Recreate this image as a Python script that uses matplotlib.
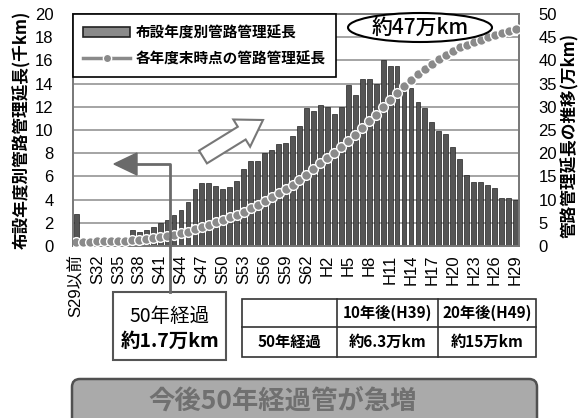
import numpy as np
import matplotlib
matplotlib.use("Agg")
import matplotlib.pyplot as plt
from matplotlib.patches import Ellipse, FancyBboxPatch, Rectangle, Polygon
from matplotlib.lines import Line2D

plt.rcParams['font.family'] = ['Noto Sans CJK JP', 'DejaVu Sans']

# fiscal years (showa / heisei)
years = ['S29以前', 'S30', 'S31', 'S32', 'S33', 'S34', 'S35', 'S36', 'S37', 'S38',
         'S39', 'S40', 'S41', 'S42', 'S43', 'S44', 'S45', 'S46', 'S47', 'S48',
         'S49', 'S50', 'S51', 'S52', 'S53', 'S54', 'S55', 'S56', 'S57', 'S58',
         'S59', 'S60', 'S61', 'S62', 'S63', 'H1', 'H2', 'H3', 'H4', 'H5',
         'H6', 'H7', 'H8', 'H9', 'H10', 'H11', 'H12', 'H13', 'H14', 'H15',
         'H16', 'H17', 'H18', 'H19', 'H20', 'H21', 'H22', 'H23', 'H24', 'H25',
         'H26', 'H27', 'H28', 'H29']

# length laid per year (thousand km)
laid = [2.8, 0.2, 0.2, 0.3, 0.3, 0.4, 0.5, 0.6,
        1.4, 1.2, 1.4, 1.6, 1.95, 2.2, 2.7, 3.1, 3.8,
        4.9, 5.4, 5.4, 5.2, 4.9, 5.05, 5.6,
        6.6, 7.35, 7.3, 8.0, 8.3, 8.8, 8.85, 9.5,
        10.35, 11.9, 11.65, 12.15, 11.95, 11.35, 12.0,
        13.85, 13.0, 14.4, 14.4, 13.95, 16.05, 15.5, 15.5,
        14.0, 13.6, 12.45, 11.9, 10.7, 9.95, 9.65,
        8.5, 7.5, 6.1, 5.5, 5.5, 5.25, 5.0, 4.1, 4.1, 4.0]

# total length at end of each year (10k km)
total = [0.9, 0.9, 0.9, 1.0, 1.0, 1.0, 1.1, 1.1,
         1.3, 1.4, 1.5, 1.7, 1.9, 2.1, 2.4, 2.7, 3.1,
         3.6, 4.1, 4.6, 5.2, 5.7, 6.2, 6.7,
         7.4, 8.1, 8.8, 9.6, 10.5, 11.4, 12.2, 13.2,
         14.2, 15.4, 16.6, 17.8, 19.0, 20.1, 21.3,
         22.7, 24.0, 25.4, 26.9, 28.3, 29.9, 31.4, 33.0,
         34.4, 35.7, 37.0, 38.2, 39.3, 40.2, 41.2,
         42.1, 42.8, 43.4, 44.0, 44.5, 45.0, 45.5, 46.0, 46.4, 46.8]

W, H = 578, 418
fig = plt.figure(figsize=(W / 100, H / 100), dpi=100)

def fx(px):
    return px / W

def fy(py):
    return 1 - py / H

ax = fig.add_axes([fx(73), fy(246), (519 - 73) / W, (246 - 14) / H])
ax2 = ax.twinx()

x = np.arange(len(years))
ax.bar(x, laid, width=0.7, color='#555555', edgecolor='#222222', linewidth=0.5, zorder=2)
ax.set_xlim(-0.5, len(years) - 0.5)
ax.set_ylim(0, 20)
ax.set_yticks(range(0, 21, 2))
ax.grid(axis='y', color='#8c8c8c', lw=1.1)
ax.set_axisbelow(True)
ax.set_xticks(x[::3])
ax.set_xticklabels(years[::3], rotation=90, fontsize=12,
                   family=['Liberation Sans', 'Noto Sans CJK JP'])
ax.tick_params(axis='x', length=0, pad=6)
ax.tick_params(axis='y', length=0, pad=14, labelsize=12)
for t in ax.get_yticklabels():
    t.set_family('Liberation Sans')

ax2.plot(x, total, color='#8a8a8a', lw=1, marker='o', ms=7,
         mfc='#8a8a8a', mec='white', mew=1.0, zorder=3)
ax2.set_ylim(0, 50)
ax2.set_yticks(range(0, 51, 5))
ax2.tick_params(axis='y', length=0, pad=14, labelsize=12)
for t in ax2.get_yticklabels():
    t.set_family('Liberation Sans')

for a in (ax, ax2):
    for s in a.spines.values():
        s.set_color('#777777')
        s.set_linewidth(1.2)

handles = [Rectangle((0, 0), 1, 1, fc='#8a8a8a', ec='#222222', lw=1.2),
           Line2D([], [], color='#8a8a8a', lw=2.5, marker='o', ms=6,
                  mfc='#8a8a8a', mec='white', mew=1.0)]
labels = ['布設年度別管路管理延長', '各年度末時点の管路管理延長']
leg = ax2.legend(handles, labels, loc='upper left', bbox_to_anchor=(0, 1),
                 borderaxespad=0, fancybox=False, edgecolor='black', framealpha=1,
                 prop=dict(weight='bold', size=10.5), handlelength=3.2,
                 labelspacing=0.7, borderpad=0.7, handletextpad=0.4)
leg.get_frame().set_linewidth(1.2)

# overlay in pixel coordinates for annotations
ov = fig.add_axes([0, 0, 1, 1], zorder=5)
ov.set_xlim(0, W)
ov.set_ylim(H, 0)
ov.axis('off')

ov.text(22, 130, '布設年度別管路管理延長(千km)', rotation=90, ha='center', va='center',
        size=12, weight='bold')
ov.text(570, 135, '管路管理延長の推移(万km)', rotation=90, ha='center', va='center',
        size=12, weight='bold')

ov.add_patch(Ellipse((420, 27.5), 144, 29, fc='white', ec='black', lw=1.5))
ov.text(420, 27.5, '約47万km', ha='center', va='center', size=15, weight='medium')

# hollow arrow (growth)
tail = np.array([203.0, 157.0])
tip = np.array([263.0, 120.0])
u = (tip - tail) / np.linalg.norm(tip - tail)
n = np.array([-u[1], u[0]])
hl, sw, hw = 25, 7.5, 16
base = tip - u * hl
pts = [tail + n * sw, base + n * sw, base + n * hw, tip,
       base - n * hw, base - n * sw, tail - n * sw]
ov.add_patch(Polygon(pts, closed=True, fc='white', ec='#777777', lw=1.5))

# gray elbow arrow to the old pipes
ov.plot([170, 170, 136], [292, 164, 164], color='#6a6a6a', lw=2)
ov.add_patch(Polygon([[114, 164], [137, 153], [137, 175]], closed=True,
                     fc='#6a6a6a', ec='#6a6a6a'))

# left box
ov.add_patch(Rectangle((113, 292), 113, 68, fc='white', ec='#555555', lw=1.5))
ov.text(170, 316, '50年経過', ha='center', va='center', size=14)
ov.text(170, 341, '約1.7万km', ha='center', va='center', size=14, weight='bold')

# right table
ov.add_patch(Rectangle((242, 299), 294, 58, fc='white', ec='#333333', lw=1.2))
ov.plot([242, 536], [327, 327], color='#333333', lw=1.2)
ov.plot([337, 337], [299, 357], color='#333333', lw=1.2)
ov.plot([438, 438], [299, 357], color='#333333', lw=1.2)
cells = [(387.5, 313, '10年後(H39)'), (487, 313, '20年後(H49)'),
         (289.5, 342, '50年経過'), (387.5, 342, '約6.3万km'), (487, 342, '約15万km')]
for cx, cy, s in cells:
    ov.text(cx, cy, s, ha='center', va='center', size=11, weight='bold')

# bottom banner
ov.add_patch(FancyBboxPatch((72, 379), 465, 50, boxstyle='round,pad=0,rounding_size=8',
                            fc='#aaaaaa', ec='#505050', lw=1.8))
ov.text(283, 401, '今後50年経過管が急増', ha='center', va='center', size=19,
        weight='bold', color='#707070')

fig.savefig('out.png', dpi=100)
